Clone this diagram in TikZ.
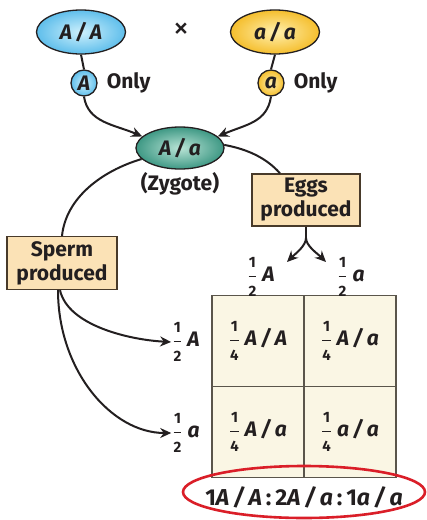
\documentclass[tikz,border=0pt]{standalone}
\usepackage{amsmath}
\usepackage{fontspec}
\setmainfont{Fira Sans}
\usetikzlibrary{shapes.geometric,positioning,arrows.meta}
\definecolor{ink}{RGB}{35,31,32}
\definecolor{bluein}{RGB}{205,240,252}
\definecolor{blueout}{RGB}{95,190,235}
\definecolor{yellin}{RGB}{255,240,175}
\definecolor{yellout}{RGB}{245,190,45}
\definecolor{tealin}{RGB}{185,228,214}
\definecolor{tealout}{RGB}{62,152,132}
\definecolor{boxfill}{RGB}{251,226,182}
\definecolor{boxline}{RGB}{72,58,42}
\definecolor{cellfill}{RGB}{250,246,228}
\definecolor{gridline}{RGB}{90,85,75}
\definecolor{redring}{RGB}{218,30,40}

\newcommand{\al}[1]{\textit{#1}}
\newcommand{\fracsz}{\fontsize{15}{15}\selectfont}
\newcommand{\frc}[2]{$\genfrac{}{}{1.3pt}{0}{\text{\fracsz #1}}{\text{\fracsz #2}}$\hspace{5pt}}

\tikzset{
  txt/.style={inner sep=1pt, text=ink, font=\fontsize{21}{24}\selectfont\bfseries},
  parent/.style={ellipse, draw=ink, line width=1.3pt, minimum width=89pt, minimum height=44pt, inner sep=0pt, txt},
  gamete/.style={circle, draw=ink, line width=1.3pt, minimum size=26pt, inner sep=0pt, txt},
  infobox/.style={draw=boxline, fill=boxfill, line width=1.3pt, minimum width=108pt, minimum height=52pt, align=center, txt},
  cell/.style={draw=gridline, fill=cellfill, line width=1.5pt, minimum width=92pt, minimum height=91pt, txt},
  link/.style={draw=ink, line width=2pt},
  arr/.style={link, -{Stealth[length=11pt, width=10pt]}}
}

\begin{document}
\begin{tikzpicture}[x=1pt, y=-1pt]

% Background
\fill[white] (0,0) rectangle (427,520);

% Parents
\node[parent, inner color=bluein, outer color=blueout] (AA) at (81,32) {\al{A\,/\,A}};
\node[txt, font=\fontsize{32}{32}\selectfont] (cross) at (181,31) {×};
\node[parent, inner color=yellin, outer color=yellout] (aa) at (275,32) {\al{a\,/\,a}};

% Gametes
\node[gamete, inner color=bluein, outer color=blueout] (gamA) at (84,83) {\al{A}};
\node[txt, right=8pt of gamA] (onlyA) {Only};
\node[gamete, inner color=yellin, outer color=yellout] (gama) at (271,83) {\al{a}};
\node[txt, right=8pt of gama] (onlya) {Only};

% Zygote
\node[parent, inner color=tealin, outer color=tealout, minimum width=88pt, minimum height=42pt] (zyg) at (180,148) {\al{A\,/\,a}};
\node[txt, below=2pt of zyg] (zyglbl) {(Zygote)};

% Boxes
\node[infobox] (eggs) at (306,200) {Eggs\\produced};
\node[infobox, minimum width=110pt, minimum height=53pt] (sperm) at (62,263) {Sperm\\produced};

% Punnett square
\node[cell] (c11) at (258,341) {\frc{1}{4}\al{A\,/\,A}};
\node[cell] (c12) at (350,341) {\frc{1}{4}\al{A\,/\,a}};
\node[cell] (c21) at (258,432) {\frc{1}{4}\al{A\,/\,a}};
\node[cell] (c22) at (350,432) {\frc{1}{4}\al{a\,/\,a}};

% Gamete labels
\node[txt] (colA) at (261,277) {\frc{1}{2}\al{A}};
\node[txt] (cola) at (351,277) {\frc{1}{2}\al{a}};
\node[txt] (rowA) at (186,342) {\frc{1}{2}\al{A}};
\node[txt] (rowa) at (186,433) {\frc{1}{2}\al{a}};

% Ratio
\node[ellipse, draw=redring, line width=2.6pt, minimum width=242pt, minimum height=52pt] (ring) at (304,492) {};
\node[txt, font=\fontsize{23}{25}\selectfont\bfseries] (ratio) at (304,497) {1\al{A\,/\,A}\,:\,2\al{A\,/\,a}\,:\,1\al{a\,/\,a}};

% Connectors
\coordinate (fork) at (306,238);
\coordinate (tipA) at (287,262);
\coordinate (tipa) at (326,262);

\draw[link] (AA.south) -- (gamA.north);
\draw[link] (aa.south) -- (gama.north);
\draw[arr] (gamA.south) .. controls +(4,26) and +(-28,-12) .. (zyg.163);
\draw[arr] (gama.south) .. controls +(-4,26) and +(28,-12) .. (zyg.17);
\draw[link] (zyg.196) .. controls +(-40,12) and +(4,-38) .. (sperm.north);
\draw[link] (zyg.4) .. controls +(22,4) and +(-14,-16) .. (eggs.north -| 280,0);
\draw[link] (eggs.south) -- (fork);
\draw[arr] (fork) .. controls +(0,8) and +(8,-8) .. (tipA);
\draw[arr] (fork) .. controls +(0,8) and +(-8,-8) .. (tipa);
\draw[arr] (sperm.south -| 60,0) .. controls +(8,36) and +(-40,-2) .. (rowA.west);
\draw[arr] (sperm.south -| 58,0) .. controls +(0,80) and +(-60,0) .. (rowa.west);

\end{tikzpicture}
\end{document}
